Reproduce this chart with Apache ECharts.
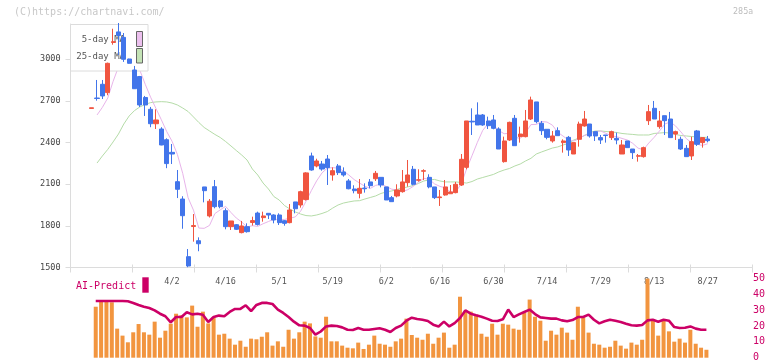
<!DOCTYPE html>
<html><head><meta charset="utf-8">
<script src="https://cdn.jsdelivr.net/npm/echarts@6/dist/echarts.min.js"></script>
<style>html,body{margin:0;padding:0;background:#fff;}#c{width:772px;height:361px;}</style>
</head><body><div id="c"></div>
<script>
const dates = ['3/11','3/12','3/13','3/14','3/17','3/18','3/19','3/21','3/24','3/25','3/26','3/27','3/28','3/31','4/1','4/2','4/3','4/4','4/7','4/8','4/9','4/10','4/11','4/14','4/15','4/16','4/17','4/18','4/21','4/22','4/23','4/24','4/25','4/28','4/30','5/1','5/2','5/7','5/8','5/9','5/12','5/13','5/14','5/15','5/16','5/19','5/20','5/21','5/22','5/23','5/26','5/27','5/28','5/29','5/30','6/2','6/3','6/4','6/5','6/6','6/9','6/10','6/11','6/12','6/13','6/16','6/17','6/18','6/19','6/20','6/23','6/24','6/25','6/26','6/27','6/30','7/1','7/2','7/3','7/4','7/7','7/8','7/9','7/10','7/11','7/14','7/15','7/16','7/17','7/18','7/22','7/23','7/24','7/25','7/28','7/29','7/30','7/31','8/1','8/4','8/5','8/6','8/7','8/8','8/12','8/13','8/14','8/15','8/18','8/19','8/20','8/21','8/22','8/25','8/26','8/27'];
const opens = [2645,2720,2819,2759,3120,3196,3157,3001,2922,2875,2724,2639,2535,2497,2420,2329,2118,1993,1578,1795,1693,2080,1871,2082,1979,1909,1794,1808,1751,1794,1824,1892,1859,1890,1878,1878,1837,1823,1972,1950,1989,2303,2231,2245,2281,2166,2231,2188,2123,2065,2034,2072,2116,2139,2149,2080,2003,2015,2046,2111,2207,2128,2193,2149,2080,2003,2022,2031,2039,2094,2221,2553,2598,2598,2555,2562,2497,2262,2418,2574,2442,2442,2569,2692,2538,2495,2411,2485,2399,2437,2317,2423,2519,2533,2478,2435,2454,2435,2430,2317,2411,2353,2301,2298,2557,2646,2514,2593,2569,2461,2423,2358,2303,2483,2399,2425];
const closes = [2650,2717,2735,2970,3126,3170,2999,2970,2787,2670,2670,2535,2562,2382,2248,2317,2063,1873,1511,1802,1671,2053,1977,1938,1938,1794,1835,1775,1799,1758,1838,1810,1871,1878,1842,1823,1818,1914,1923,2046,2181,2202,2267,2209,2219,2197,2183,2166,2067,2053,2070,2067,2089,2178,2094,1986,1974,2058,2116,2166,2099,2132,2197,2080,2003,2008,2080,2044,2099,2279,2555,2548,2526,2526,2521,2502,2353,2411,2545,2377,2461,2555,2706,2550,2485,2437,2447,2449,2411,2346,2399,2533,2569,2447,2447,2418,2450,2478,2418,2382,2363,2327,2305,2363,2622,2569,2555,2557,2435,2478,2353,2298,2406,2387,2435,2413];
const lows = [2645,2701,2713,2740,3104,3030,2980,2968,2785,2656,2591,2510,2497,2380,2215,2245,2000,1779,1502,1686,1617,1969,1860,1926,1926,1775,1770,1770,1746,1751,1802,1802,1830,1849,1818,1806,1801,1818,1890,1931,1982,2197,2221,2197,2094,2125,2166,2154,2063,2034,1998,2039,2070,2123,2077,1986,1974,2005,2039,2082,2092,2118,2130,2070,1993,1943,2017,2031,2034,2087,2207,2454,2526,2520,2497,2495,2353,2255,2411,2377,2399,2437,2562,2538,2454,2423,2399,2449,2327,2303,2317,2370,2514,2435,2411,2389,2399,2418,2387,2317,2363,2281,2262,2291,2526,2569,2499,2454,2435,2418,2346,2298,2274,2375,2363,2401];
const highs = [2650,2850,2850,2975,3219,3260,3188,3003,2951,2879,2735,2656,2639,2510,2430,2389,2202,2013,1633,1885,1717,2080,1993,2130,1986,1926,1835,1813,1835,1818,1866,1902,1902,1892,1883,1890,1842,1957,1972,2053,2186,2327,2283,2267,2310,2221,2245,2221,2137,2092,2137,2106,2137,2195,2149,2080,2015,2099,2202,2274,2231,2207,2207,2171,2080,2058,2130,2094,2116,2317,2555,2646,2689,2605,2586,2598,2509,2442,2550,2598,2514,2634,2730,2692,2555,2495,2483,2509,2423,2447,2399,2550,2627,2533,2478,2454,2454,2485,2471,2418,2411,2353,2317,2370,2670,2699,2627,2593,2620,2485,2442,2382,2442,2490,2435,2447];
const ma5 = ['-',2598,2653,2720,2840,2944,3000,3047,3010,2919,2819,2726,2645,2564,2479,2409,2314,2177,2002,1913,1784,1782,1803,1888,1915,1940,1896,1856,1828,1792,1801,1796,1815,1831,1848,1845,1846,1855,1864,1905,1976,2053,2124,2181,2216,2219,2215,2195,2166,2133,2108,2085,2069,2091,2100,2083,2064,2058,2046,2060,2083,2114,2142,2135,2102,2084,2074,2043,2047,2102,2211,2305,2401,2487,2535,2525,2486,2463,2466,2438,2429,2470,2529,2530,2551,2547,2525,2474,2446,2418,2410,2428,2452,2459,2479,2483,2466,2448,2442,2429,2418,2394,2359,2348,2396,2437,2483,2533,2548,2519,2476,2428,2398,2387,2379,2391];
const ma25 = ['-',2252,2303,2350,2404,2461,2533,2591,2630,2656,2674,2687,2692,2694,2692,2684,2670,2648,2623,2584,2544,2508,2483,2458,2436,2407,2375,2342,2310,2274,2209,2166,2108,2065,2011,1986,1946,1921,1900,1885,1874,1871,1878,1889,1903,1928,1950,1964,1972,1979,1981,1993,2004,2015,2033,2044,2051,2062,2072,2080,2090,2105,2123,2130,2134,2123,2116,2116,2116,2112,2108,2119,2137,2148,2159,2170,2188,2202,2213,2231,2245,2267,2286,2317,2332,2346,2360,2368,2382,2393,2418,2432,2450,2472,2483,2483,2479,2476,2472,2465,2461,2458,2454,2454,2454,2465,2468,2471,2468,2458,2450,2447,2443,2440,2437,2437];
const volume = ['-',32.1,35.7,35.1,34.9,18.3,13.9,9.7,16.0,21.2,16.0,14.5,22.7,12.6,17.0,21.4,27.7,26.7,25.4,32.8,19.5,29.0,21.6,25.4,14.5,15.1,12.0,8.2,10.7,6.9,12.0,11.6,13.2,16.0,7.6,10.3,6.9,17.6,12.0,16.0,22.7,21.6,13.4,12.6,25.8,10.3,10.3,7.6,6.3,5.9,9.5,5.5,8.2,13.9,8.8,8.2,6.9,10.3,12.0,24.6,14.3,12.6,11.3,15.1,8.8,12.6,15.8,6.3,8.2,38.4,29.6,29.0,27.1,15.1,13.2,21.4,14.5,21.4,20.8,18.3,17.6,28.4,36.6,25.8,23.3,10.7,17.0,14.5,18.9,15.8,11.3,32.1,25.2,15.8,8.8,8.2,6.3,6.9,10.7,7.6,5.7,9.5,8.2,11.3,49.8,23.3,13.9,23.3,16.6,10.1,12.0,9.5,17.6,8.8,6.3,5.0];
const aiPredict = ['-',35.7,35.7,35.7,35.7,35.7,35.7,35.5,34.5,33.2,32.1,31.3,29.8,27.7,26.1,22.3,25.6,25.6,28.6,27.3,27.7,27.1,22.5,25.6,26.5,26.1,28.8,30.7,30.7,33.0,29.4,33.2,34.5,34.5,33.8,30.3,28.2,25.6,22.7,20.4,20.2,18.7,14.5,16.5,19.7,20.2,20.0,19.1,17.6,17.4,18.7,17.6,17.6,18.1,18.5,17.6,16.2,18.7,20.2,23.3,25.2,24.4,23.9,23.1,20.8,19.7,22.7,19.7,21.8,25.0,29.8,27.7,26.7,25.8,24.6,23.3,23.1,24.2,30.3,25.6,27.3,28.8,30.3,27.5,25.4,25.0,24.6,24.6,23.5,22.9,23.7,25.6,25.6,27.1,23.9,21.6,22.9,23.9,23.3,22.5,21.4,20.4,20.2,20.6,23.5,23.9,22.7,23.9,23.3,19.3,18.7,18.9,19.7,18.3,17.6,17.6];
const tickLabels = ['4/2','4/16','5/1','5/19','6/2','6/16','6/30','7/14','7/29','8/13','8/27'];
const priceTicks = [1500,1800,2100,2400,2700,3000];
const subTicks = [0,10,20,30,40,50];

const candles = opens.map((o, i) => [o, closes[i], lows[i], highs[i]]);
const MONO = 'DejaVu Sans Mono';
const chart = echarts.init(document.getElementById('c'), null, {renderer: 'canvas'});
const PMIN = 1500, PMAX = 3253;
chart.setOption({
  animation: false,
  backgroundColor: '#fff',
  grid: [
    {left: 89.0, right: 61.6, top: 24, bottom: 93.5, outerBoundsMode: 'none', containLabel: false},
    {left: 87.7, right: 62.9, top: 278.3, bottom: 3.3, outerBoundsMode: 'none', containLabel: false},
    {left: 70.5, right: 19.5, top: 24, bottom: 93.5, outerBoundsMode: 'none', containLabel: false}
  ],
  xAxis: [
    {type: 'category', gridIndex: 0, data: dates, boundaryGap: true,
     axisLine: {show: false}, axisTick: {show: false}, splitLine: {show: false},
     axisLabel: {interval: (idx, val) => tickLabels.includes(val), margin: 10,
       fontFamily: MONO, fontSize: 8.5, color: '#555', hideOverlap: false}},
    {type: 'category', gridIndex: 1, data: dates, boundaryGap: true, show: false},
    {type: 'value', gridIndex: 2, min: 0, max: 11, interval: 1, position: 'bottom',
     axisLine: {show: true, lineStyle: {color: '#dcdcdc', width: 1}},
     axisTick: {show: true, length: 5, lineStyle: {color: '#dcdcdc'}},
     axisLabel: {show: false}, splitLine: {show: false}},
    {type: 'value', gridIndex: 2, min: 0, max: 11, interval: 1, position: 'bottom', offset: 0,
     axisLine: {show: false},
     axisTick: {show: true, inside: true, length: 3, lineStyle: {color: '#dcdcdc'}},
     axisLabel: {show: false}, splitLine: {show: false}}
  ],
  yAxis: [
    {type: 'value', gridIndex: 0, min: PMIN, max: PMAX, show: false, splitLine: {show: false}},
    {type: 'value', gridIndex: 1, min: 0, max: 50, interval: 10, position: 'right', offset: 41,
     axisLine: {show: false}, axisTick: {show: false}, splitLine: {show: false},
     axisLabel: {margin: 3, fontFamily: MONO, fontSize: 10, color: '#cc0066',
       customValues: subTicks, formatter: v => String(v)}},
    {type: 'value', gridIndex: 2, min: PMIN, max: PMAX, position: 'left',
     axisLine: {show: true, lineStyle: {color: '#dcdcdc', width: 1}},
     axisTick: {show: true, length: 5, lineStyle: {color: '#dcdcdc'}, customValues: priceTicks},
     axisLabel: {margin: 10, fontFamily: MONO, fontSize: 8.5, color: '#444',
       customValues: priceTicks, formatter: v => String(v)},
     splitLine: {show: false}}
  ],
  series: [
    {name: '25-day MA', type: 'line', xAxisIndex: 0, yAxisIndex: 0, data: ma25, z: 1,
     symbol: 'none', lineStyle: {color: '#b5dca8', width: 1}, silent: true},
    {name: '5-day MA', type: 'line', xAxisIndex: 0, yAxisIndex: 0, data: ma5, z: 1,
     symbol: 'none', lineStyle: {color: '#e8b4ea', width: 1}, silent: true},
    {name: 'price', type: 'candlestick', xAxisIndex: 0, yAxisIndex: 0, data: candles, z: 3,
     barWidth: 4.6, clip: false,
     itemStyle: {color: '#f05540', color0: '#4275ea', borderColor: '#f05540', borderColor0: '#4275ea', borderWidth: 1}},
    {name: 'volume', type: 'bar', xAxisIndex: 1, yAxisIndex: 1, data: volume, barWidth: 4,
     itemStyle: {color: '#f2953f'}, z: 2},
    {name: 'AI-Predict', type: 'line', xAxisIndex: 1, yAxisIndex: 1, data: aiPredict, z: 3,
     symbol: 'none', lineStyle: {color: '#cc0066', width: 2.6}}
  ],
  graphic: [
    {type: 'text', left: 14, top: 7, z: 5,
     style: {text: '(C)https://chartnavi.com/', font: '10px ' + MONO, fill: '#c8c8c8'}},
    {type: 'text', left: 733, top: 8, z: 5,
     style: {text: '285a', font: '8px "DejaVu Sans"', fill: '#bdbdbd'}},
    {type: 'rect', z: 2, shape: {x: 70.5, y: 24.5, width: 77.5, height: 46.5},
     style: {fill: '#fff', stroke: '#dcdcdc', lineWidth: 1}},
    {type: 'text', z: 2, x: 125, y: 40,
     style: {text: '5-day MA', font: '9px ' + MONO, fill: '#555', align: 'right', verticalAlign: 'middle'}},
    {type: 'text', z: 2, x: 125, y: 56.5,
     style: {text: '25-day MA', font: '9px ' + MONO, fill: '#555', align: 'right', verticalAlign: 'middle'}},
    {type: 'rect', z: 2, shape: {x: 136.5, y: 31.5, width: 6, height: 15},
     style: {fill: '#ecc0ee', stroke: '#666', lineWidth: 1}},
    {type: 'rect', z: 2, shape: {x: 136.5, y: 48.5, width: 6, height: 14.5},
     style: {fill: '#c4e3b6', stroke: '#666', lineWidth: 1}},
    {type: 'text', z: 5, x: 76, y: 286,
     style: {text: 'AI-Predict', font: '10px ' + MONO, fill: '#cc0066', verticalAlign: 'middle'}},
    {type: 'rect', z: 5, shape: {x: 142.3, y: 277.3, width: 6.4, height: 15.4},
     style: {fill: '#cc0066'}}
  ]
});
</script></body></html>
